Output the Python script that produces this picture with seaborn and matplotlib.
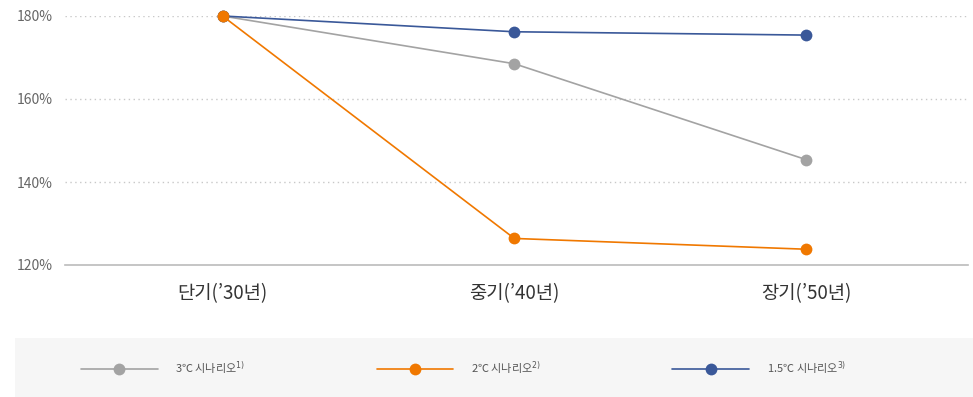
import pandas as pd
import matplotlib.pyplot as plt
import matplotlib.patches as mpatches
import seaborn as sns

sns.set_theme(style="white")
plt.rcParams["font.family"] = ["Noto Sans CJK KR", "DejaVu Sans"]

# ── Data ─────────────────────────────────────────────────────────────────────
periods = ["단기(’30년)", "중기(’40년)", "장기(’50년)"]
scenarios = ["3℃ 시나리오$^{1)}$", "2℃ 시나리오$^{2)}$", "1.5℃ 시나리오$^{3)}$"]
values_3c = [180.0, 168.5, 145.4]
values_2c = [180.0, 126.4, 123.8]
values_15c = [180.0, 176.2, 175.4]
colors = ["#a3a3a3", "#f07800", "#3a5899"]

df = pd.DataFrame({
    "period": periods * 3,
    "scenario": [s for s in scenarios for _ in periods],
    "value": values_3c + values_2c + values_15c,
})

# ── Plot ─────────────────────────────────────────────────────────────────────
fig = plt.figure(figsize=(9.73, 3.97), dpi=100)
ax = fig.add_axes([65 / 973, 1 - 265 / 397, (968 - 65) / 973, (265 - 16) / 397])

sns.lineplot(data=df, x="period", y="value", hue="scenario", palette=colors,
             marker="o", markersize=8.5, markeredgewidth=0, linewidth=1.2,
             sort=False, ax=ax, clip_on=False, zorder=3)
# orange series sits on top at the shared starting point
ax.lines[1].set_zorder(5)

ax.set_ylim(120, 180)
ax.set_xlim(-0.54, 2.555)
ax.set_yticks([120, 140, 160, 180])
ax.set_yticklabels([f"{v}%" for v in [120, 140, 160, 180]])
ax.set_xlabel("")
ax.set_ylabel("")
ax.tick_params(axis="y", length=0, pad=9, labelsize=10, labelcolor="#666666")
ax.tick_params(axis="x", length=0, pad=13, labelsize=13.5, labelcolor="#333333")

for y in [140, 160, 180]:
    ax.axhline(y, color="#c8c8c8", linewidth=1, linestyle=(0, (1, 2.5)), zorder=1)

for side in ["top", "right", "left"]:
    ax.spines[side].set_visible(False)
ax.spines["bottom"].set_color("#bbbbbb")
ax.spines["bottom"].set_linewidth(1.2)

# legend in a grey band
handles, labels = ax.get_legend_handles_labels()
ax.get_legend().remove()
fig.patches.append(mpatches.Rectangle((15 / 973, 0), 1 - 15 / 973, 59 / 397,
                                      transform=fig.transFigure, facecolor="#f6f6f6",
                                      edgecolor="none", zorder=0))
fig.legend(handles, labels, loc="center left", bbox_to_anchor=(71 / 973, 29 / 397),
           ncol=3, frameon=False, fontsize=8, labelcolor="#555555",
           handlelength=6.9, handletextpad=1.6, columnspacing=11.8)

plt.savefig("out.png", dpi=100)
